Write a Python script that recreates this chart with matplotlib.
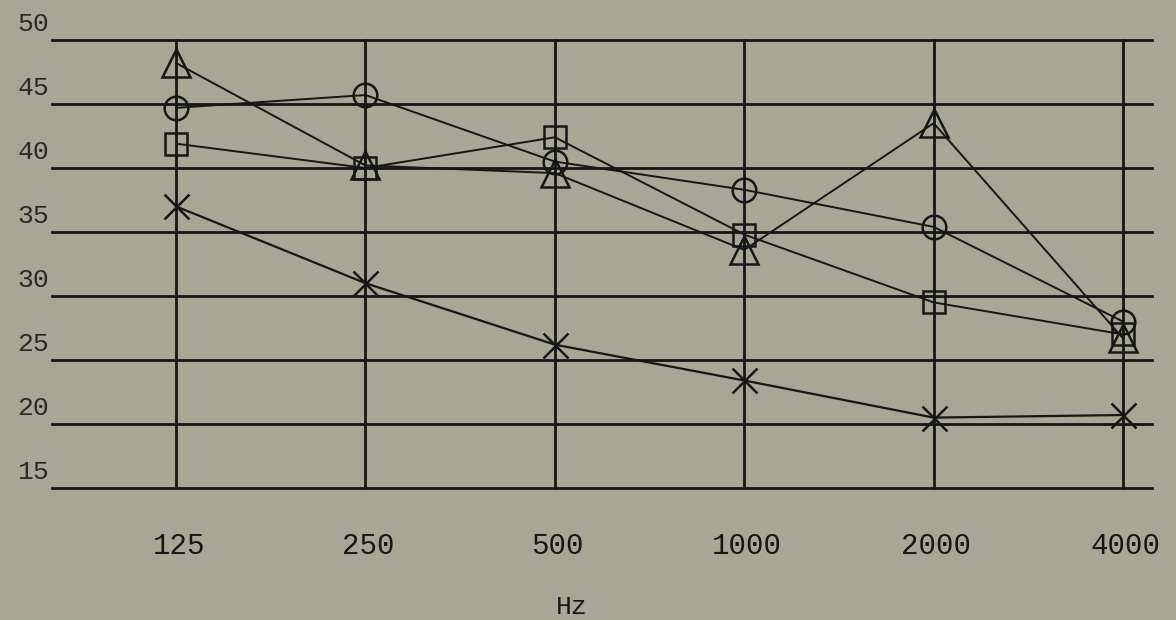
import matplotlib
matplotlib.use("Agg")
import matplotlib.pyplot as plt
import numpy as np

freqs = ["125", "250", "500", "1000", "2000", "4000"]
y_ticks = [15, 20, 25, 30, 35, 40, 45, 50]
triangle = [48.2, 40.2, 39.6, 33.6, 43.5, 26.7]
circle = [44.7, 45.7, 40.5, 38.3, 35.4, 28.0]
square = [41.9, 40.0, 42.4, 34.8, 29.5, 27.0]
cross = [37.0, 31.0, 26.2, 23.4, 20.5, 20.7]

bg = "#a8a795"
ink = "#161616"
font = ["Liberation Mono", "DejaVu Sans Mono"]

fig = plt.figure(figsize=(11.76, 6.2), dpi=100, facecolor=bg)
ax = fig.add_axes([52/1176, 1-488/620, (1152-52)/1176, (488-40)/620])
ax.set_facecolor(bg)
x = np.arange(len(freqs))
ax.set_xlim(-0.655, 5.153)
ax.set_ylim(15, 50)
for s in ax.spines.values():
    s.set_visible(False)

for v in y_ticks:
    ax.axhline(v, color=ink, lw=2.0, zorder=1, clip_on=False)
for xi in x:
    ax.plot([xi, xi], [15, 50], color=ink, lw=2.0, zorder=1, clip_on=False)

ax.plot(x, triangle, color=ink, lw=1.4, marker="^", ms=20, mfc="none", mec=ink, mew=1.8, zorder=3, clip_on=False)
ax.plot(x, circle, color=ink, lw=1.4, marker="o", ms=17, mfc="none", mec=ink, mew=1.8, zorder=3, clip_on=False)
ax.plot(x, square, color=ink, lw=1.4, marker="s", ms=16, mfc="none", mec=ink, mew=1.8, zorder=3, clip_on=False)
ax.plot(x, cross, color=ink, lw=1.6, marker="x", ms=18, mfc="none", mec=ink, mew=1.8, zorder=3, clip_on=False)

ax.set_xticks([])
ax.set_yticks([])
for v in y_ticks:
    ax.annotate(str(v), xy=(0, v), xycoords=("axes fraction", "data"),
                xytext=(-2, 3), textcoords="offset points", ha="right", va="bottom",
                fontsize=19, family=font, color="#2a2a2a")
for xi, lab in zip(x, freqs):
    ax.annotate(lab, xy=(xi, 15), xycoords="data", xytext=(2, -32), textcoords="offset points",
                ha="center", va="top", fontsize=21, family=font, color=ink)
fig.text(572/1176, 1-607/620, "Hz", ha="center", va="center", fontsize=19, family=font, color=ink)

fig.savefig("out.png", dpi=100, facecolor=bg)
